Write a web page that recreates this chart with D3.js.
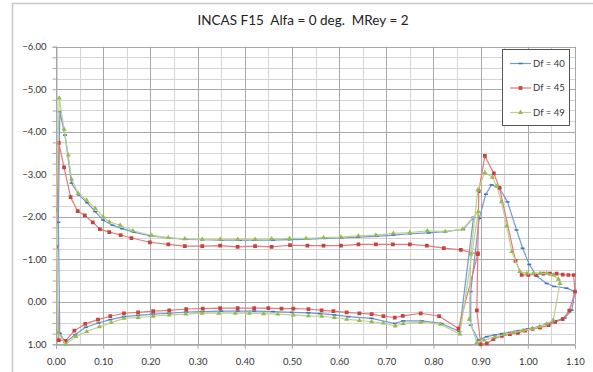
<!DOCTYPE html>
<html>
<head>
<meta charset="utf-8">
<script src="https://cdn.jsdelivr.net/npm/d3@7"></script>
<style>
  html, body { margin: 0; padding: 0; background: #fff; }
  svg { display: block; font-family: Lato, "Open Sans", sans-serif; }
</style>
</head>
<body>
<svg id="chart" width="593" height="372"></svg>
<script>
// Pressure coefficient Cp along the main element and the flap, for three flap settings.
// Each loop is listed as [x/c, Cp] and drawn closed.
const seriesNames = ["Df = 40", "Df = 45", "Df = 49"];

const df40Main = [
  [0.005,-1.87],[0.008,-4.47],[0.019,-3.92],[0.033,-2.79],[0.049,-2.51],[0.066,-2.33],[0.083,-2.12],
  [0.100,-1.92],[0.120,-1.80],[0.140,-1.72],[0.165,-1.64],[0.200,-1.55],[0.240,-1.50],[0.275,-1.47],
  [0.310,-1.46],[0.350,-1.45],[0.390,-1.45],[0.420,-1.45],[0.460,-1.45],[0.495,-1.46],[0.530,-1.47],
  [0.570,-1.49],[0.605,-1.50],[0.640,-1.52],[0.680,-1.54],[0.715,-1.57],[0.750,-1.60],[0.790,-1.62],
  [0.822,-1.65],[0.863,-1.70],[0.885,-1.99],
  [0.855,0.70],[0.817,0.51],[0.775,0.45],[0.736,0.45],[0.718,0.51],[0.669,0.39],[0.620,0.35],
  [0.590,0.31],[0.560,0.28],[0.535,0.26],[0.500,0.25],[0.460,0.23],[0.420,0.22],[0.385,0.22],
  [0.350,0.22],[0.310,0.23],[0.276,0.24],[0.240,0.27],[0.206,0.29],[0.174,0.32],[0.144,0.35],
  [0.115,0.42],[0.090,0.50],[0.063,0.60],[0.041,0.77],[0.020,0.96],[0.008,0.74]
];
const df40Flap = [
  [0.879,-0.24],[0.897,-1.96],[0.911,-2.53],[0.923,-2.75],[0.940,-2.67],[0.957,-2.35],[0.976,-1.69],
  [0.989,-1.26],[1.003,-0.88],[1.019,-0.60],[1.040,-0.43],[1.056,-0.36],[1.082,-0.32],[1.100,-0.24],
  [1.093,0.20],[1.078,0.38],[1.060,0.45],[1.040,0.52],[1.020,0.60],[1.000,0.64],[0.980,0.68],
  [0.962,0.72],[0.945,0.75],[0.930,0.78],[0.913,0.82],[0.895,0.90],[0.879,0.55]
];

const df45Main = [
  [0.000,-1.29],[0.006,-3.74],[0.017,-3.16],[0.031,-2.46],[0.046,-2.13],[0.061,-2.03],[0.078,-1.87],
  [0.093,-1.71],[0.113,-1.64],[0.137,-1.57],[0.160,-1.50],[0.199,-1.40],[0.238,-1.35],[0.273,-1.31],
  [0.310,-1.31],[0.348,-1.32],[0.385,-1.29],[0.422,-1.31],[0.457,-1.29],[0.496,-1.33],[0.533,-1.32],
  [0.567,-1.32],[0.604,-1.32],[0.641,-1.35],[0.678,-1.35],[0.714,-1.35],[0.750,-1.35],[0.786,-1.32],
  [0.822,-1.26],[0.858,-1.22],[0.894,-1.12],
  [0.853,0.63],[0.812,0.34],[0.773,0.27],[0.735,0.33],[0.718,0.37],[0.694,0.34],[0.669,0.29],
  [0.643,0.27],[0.616,0.25],[0.588,0.22],[0.563,0.20],[0.535,0.17],[0.503,0.16],[0.478,0.16],
  [0.450,0.15],[0.420,0.15],[0.385,0.15],[0.348,0.15],[0.311,0.16],[0.276,0.17],[0.240,0.20],
  [0.206,0.22],[0.174,0.25],[0.144,0.27],[0.115,0.34],[0.089,0.42],[0.062,0.52],[0.039,0.68],
  [0.020,0.92],[0.006,0.90]
];
const df45Flap = [
  [0.896,-2.60],[0.909,-3.43],[0.928,-3.02],[0.940,-2.68],[0.974,-0.96],[0.987,-0.63],[1.001,-0.63],
  [1.017,-0.64],[1.033,-0.66],[1.047,-0.66],[1.061,-0.66],[1.074,-0.64],[1.086,-0.63],[1.097,-0.63],
  [1.100,-0.24],[1.088,0.21],[1.074,0.41],[1.058,0.47],[1.044,0.55],[1.026,0.61],[1.010,0.64],
  [0.994,0.68],[0.979,0.73],[0.962,0.76],[0.945,0.80],[0.927,0.88],[0.913,0.98],[0.900,1.00],
  [0.892,0.20],[0.894,-1.14]
];

const df49Main = [
  [0.000,-2.16],[0.007,-4.79],[0.017,-4.06],[0.026,-3.45],[0.033,-2.88],[0.047,-2.55],[0.065,-2.39],
  [0.083,-2.20],[0.100,-2.00],[0.113,-1.88],[0.136,-1.80],[0.163,-1.67],[0.203,-1.56],[0.238,-1.51],
  [0.273,-1.48],[0.310,-1.47],[0.348,-1.47],[0.385,-1.47],[0.422,-1.47],[0.457,-1.48],[0.495,-1.49],
  [0.530,-1.49],[0.567,-1.51],[0.604,-1.52],[0.641,-1.55],[0.678,-1.57],[0.715,-1.61],[0.750,-1.63],
  [0.787,-1.67],[0.825,-1.65],[0.862,-1.71],[0.895,-2.12],
  [0.856,0.76],[0.815,0.53],[0.773,0.48],[0.736,0.51],[0.719,0.57],[0.694,0.50],[0.669,0.47],
  [0.643,0.44],[0.616,0.41],[0.590,0.37],[0.563,0.34],[0.535,0.33],[0.503,0.31],[0.470,0.29],
  [0.440,0.28],[0.410,0.27],[0.380,0.27],[0.345,0.27],[0.310,0.27],[0.275,0.29],[0.240,0.31],
  [0.206,0.34],[0.174,0.37],[0.144,0.39],[0.117,0.49],[0.092,0.59],[0.065,0.70],[0.042,0.82],
  [0.021,1.00],[0.004,0.73]
];
const df49Flap = [
  [0.879,-1.12],[0.894,-2.63],[0.909,-3.04],[0.925,-2.93],[0.934,-2.72],[0.944,-2.35],[0.955,-1.78],
  [0.966,-1.18],[0.983,-0.71],[0.998,-0.67],[1.012,-0.67],[1.026,-0.67],[1.040,-0.67],[1.054,-0.63],
  [1.065,-0.53],[1.068,-0.43],[1.054,0.43],[1.040,0.52],[1.025,0.58],[1.010,0.63],[0.990,0.68],
  [0.970,0.72],[0.950,0.77],[0.930,0.83],[0.907,0.90],[0.892,0.96],[0.876,0.41]
];

const xTicks = [0, 0.1, 0.2, 0.3, 0.4, 0.5, 0.6, 0.7, 0.8, 0.9, 1.0, 1.1];
const yTicks = [-6, -5, -4, -3, -2, -1, 0, 1];
const titleText = "INCAS F15  Alfa = 0 deg.  MRey = 2";

const svg = d3.select("#chart");
const W = 593, H = 372;
const plot = { left: 56, right: 575, top: 46.7, bottom: 344.3 };

const x = d3.scaleLinear().domain([0, 1.1]).range([plot.left, plot.right]);
const y = d3.scaleLinear().domain([-6, 1]).range([plot.top, plot.bottom]);

// chart frame
svg.append("rect").attr("x", 12.5).attr("y", 3.5).attr("width", W + 10).attr("height", H + 10)
  .attr("fill", "#fff").attr("stroke", "#c8c8c8").attr("stroke-width", 1.5);

// title
svg.append("text").attr("x", 303).attr("y", 25).attr("text-anchor", "middle")
  .style("white-space", "pre").attr("font-size", 13.5).attr("fill", "#222").text(titleText);

// grid
const grid = svg.append("g");
const minorX = d3.range(0.05, 1.1, 0.1);
const minorY = d3.range(-6, 1.001, 0.25).filter(v => Math.abs(v - Math.round(v)) > 1e-6);
grid.selectAll(".mx").data(minorX).join("line")
  .attr("x1", d => Math.round(x(d)) + 0.5).attr("x2", d => Math.round(x(d)) + 0.5)
  .attr("y1", plot.top).attr("y2", plot.bottom).attr("stroke", "#d4d4d4");
grid.selectAll(".my").data(minorY).join("line")
  .attr("y1", d => Math.round(y(d)) + 0.5).attr("y2", d => Math.round(y(d)) + 0.5)
  .attr("x1", plot.left).attr("x2", plot.right).attr("stroke", "#d4d4d4");
grid.selectAll(".Mx").data(xTicks).join("line")
  .attr("x1", d => Math.round(x(d)) + 0.5).attr("x2", d => Math.round(x(d)) + 0.5)
  .attr("y1", plot.top).attr("y2", plot.bottom).attr("stroke", "#a8a8a8");
grid.selectAll(".My").data(yTicks).join("line")
  .attr("y1", d => Math.round(y(d)) + 0.5).attr("y2", d => Math.round(y(d)) + 0.5)
  .attr("x1", plot.left).attr("x2", plot.right).attr("stroke", "#a8a8a8");

// axes
const yAxis = d3.axisLeft(y).tickValues(d3.range(-6, 1.001, 0.25)).tickSize(4)
  .tickFormat(d => yTicks.some(t => Math.abs(t - d) < 1e-6) ? d3.format(".2f")(d) : "");
const gy = svg.append("g").attr("transform", `translate(${plot.left + 0.5},0)`).call(yAxis);
gy.select(".domain").attr("stroke", "#a8a8a8");
gy.selectAll(".tick line").attr("stroke", "#a8a8a8");
gy.selectAll(".tick text").attr("font-size", 9.5).attr("fill", "#333").attr("x", -10)
  .attr("font-family", "Lato, sans-serif");

const xAxis = d3.axisBottom(x).tickValues(xTicks).tickSize(4).tickFormat(d3.format(".2f"));
const gx = svg.append("g").attr("transform", `translate(0,${plot.bottom + 0.5})`).call(xAxis);
gx.select(".domain").attr("stroke", "#a8a8a8");
gx.selectAll(".tick line").attr("stroke", "#a8a8a8");
gx.selectAll(".tick text").attr("font-size", 9.5).attr("fill", "#333").attr("y", 13)
  .attr("font-family", "Lato, sans-serif");

// series
const styles = [
  { line: "#6b9ad6", fill: "#3f72b5", marker: "dash" },
  { line: "#e07b78", fill: "#c8433f", marker: "square" },
  { line: "#c2cf8e", fill: "#93bb4f", marker: "triangle" }
];
const loops = [[df40Main, df40Flap], [df45Main, df45Flap], [df49Main, df49Flap]];

svg.append("clipPath").attr("id", "plotClip").append("rect")
  .attr("x", plot.left).attr("y", plot.top - 2)
  .attr("width", plot.right - plot.left + 4).attr("height", plot.bottom - plot.top + 4);

const lineGen = d3.line().x(d => x(d[0])).y(d => y(d[1])).curve(d3.curveLinearClosed);
const sym = {
  square: d3.symbol().type(d3.symbolSquare).size(14),
  triangle: d3.symbol().type(d3.symbolTriangle).size(11)
};

function drawMarker(g, kind, color, px, py) {
  if (kind === "dash") {
    g.append("rect").attr("x", px - 2).attr("y", py - 0.75).attr("width", 4).attr("height", 1.5)
      .attr("fill", color);
  } else {
    g.append("path").attr("d", sym[kind]()).attr("transform", `translate(${px},${py})`)
      .attr("fill", color);
  }
}

const seriesG = svg.append("g").attr("clip-path", "url(#plotClip)");
loops.forEach((pair, i) => {
  const st = styles[i];
  const g = seriesG.append("g");
  pair.forEach(loop => {
    g.append("path").attr("d", lineGen(loop)).attr("fill", "none")
      .attr("stroke", st.line).attr("stroke-width", 1.2).attr("stroke-linejoin", "round");
  });
  pair.forEach(loop => loop.forEach(p => drawMarker(g, st.marker, st.fill, x(p[0]), y(p[1]))));
});

// legend
const lg = svg.append("g");
lg.append("rect").attr("x", 502.5).attr("y", 49.5).attr("width", 67).attr("height", 76)
  .attr("fill", "#fff").attr("stroke", "#555").attr("stroke-width", 1);
seriesNames.forEach((name, i) => {
  const yy = 63.5 + i * 24.5;
  lg.append("line").attr("x1", 510).attr("x2", 531).attr("y1", yy).attr("y2", yy)
    .attr("stroke", styles[i].line).attr("stroke-width", 1.2);
  drawMarker(lg, styles[i].marker, styles[i].fill, 520.5, yy);
  lg.append("text").attr("x", 533).attr("y", yy + 3.3).attr("font-size", 9.5).attr("fill", "#333")
    .text(name);
});
</script>
</body>
</html>
